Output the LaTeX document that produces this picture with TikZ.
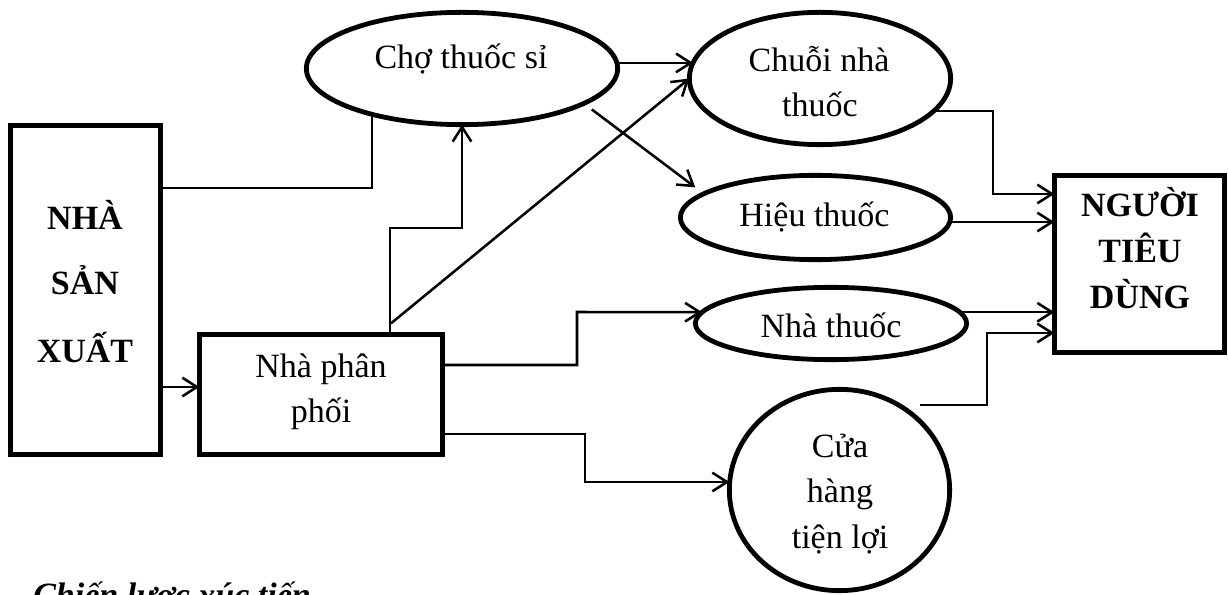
\documentclass[tikz,border=0pt]{standalone}
\usepackage{fontspec}
\setmainfont{Liberation Serif}
\usetikzlibrary{arrows.meta,shapes.geometric,calc}
\begin{document}
\begin{tikzpicture}[x=0.75pt,y=-0.75pt,
  box/.style={draw, line width=3.6pt, rectangle, inner sep=0pt, outer sep=0pt},
  oval/.style={draw, line width=3.6pt, ellipse, inner sep=0pt, outer sep=0pt},
  txt/.style={inner sep=0pt, anchor=base, font=\fontsize{25.5}{30}\selectfont},
  btxt/.style={txt, font=\fontsize{25.5}{30}\selectfont\bfseries},
  link/.style={line width=1.9pt},
  arr/.style={link, -{Straight Barb[length=11pt,width=14pt]}}]

\clip (0,0) rectangle (1228,595);

% boxes
\node[box, minimum width=150.4*0.75pt, minimum height=329.4*0.75pt] (nsx) at (85.5,290) {};
\node[box, minimum width=243.3*0.75pt, minimum height=120.3*0.75pt] (npp) at (321,394.5) {};
\node[box, minimum width=170.3*0.75pt, minimum height=177.3*0.75pt] (nguoi) at (1139.5,264) {};

% ovals
\node[oval, minimum width=311.3*0.75pt, minimum height=112.3*0.75pt] (cho) at (462,68.5) {};
\node[oval, minimum width=261.3*0.75pt, minimum height=132.3*0.75pt] (chuoi) at (820,78.5) {};
\node[oval, minimum width=270.3*0.75pt, minimum height=84.3*0.75pt] (hieu) at (815.5,217.5) {};
\node[oval, minimum width=271.3*0.75pt, minimum height=72.3*0.75pt] (nhathuoc) at (831,323.5) {};
\node[oval, minimum width=220.3*0.75pt, minimum height=201.3*0.75pt] (cuahang) at (839.5,490) {};

% labels
\node[btxt] (nsx1) at (85,230) {NHÀ};
\node[btxt] (nsx2) at (85,295) {SẢN};
\node[btxt] (nsx3) at (85,362) {XUẤT};
\node[txt] (npp1) at (321,377) {Nhà phân};
\node[txt] (npp2) at (321,422) {phối};
\node[btxt] (ng1) at (1140,217) {NGƯỜI};
\node[btxt] (ng2) at (1140,263) {TIÊU};
\node[btxt] (ng3) at (1140,309) {DÙNG};
\node[txt] (cho1) at (461,69) {Chợ thuốc sỉ};
\node[txt] (chuoi1) at (819,72) {Chuỗi nhà};
\node[txt] (chuoi2) at (820,117) {thuốc};
\node[txt] (hieu1) at (814.5,227) {Hiệu thuốc};
\node[txt] (nt1) at (831,337) {Nhà thuốc};
\node[txt] (ch1) at (840,457) {Cửa};
\node[txt] (ch2) at (840,502) {hàng};
\node[txt] (ch3) at (840,548) {tiện lợi};
% section heading running off the lower edge
\node[btxt, font=\fontsize{25.5}{30}\selectfont\bfseries\itshape, anchor=base west] (clxt) at (33,606) {Chiến lược xúc tiến};

% connectors
\draw[arr] (nsx.east |- 0,387) -- (npp.west |- 0,387);
\draw[link] (nsx.east |- 0,188) -| (cho.207);
\draw[arr] (npp.north -| 390,0) -- (390,228) -| (cho.south);
\draw[arr] ($(npp.north -| 391,0)+(0,-11)$) -- (chuoi.west);
\draw[arr] (cho.east |- chuoi.173) -- (chuoi.173);
\draw[arr, shorten <=7.5pt, shorten >=8pt] (cho.-16.5) -- (hieu.168);
\draw[arr] (chuoi.-16) -| (993,194) -- (nguoi.west |- 0,194);
\draw[arr] (hieu.east |- 0,222) -- (nguoi.west |- 0,222);
\draw[arr] (npp.east |- 0,365) -| (577,312) -- (nhathuoc.175);
\draw[arr] (npp.east |- 0,434) -| (585,482) -- (cuahang.west |- 0,482);
\draw[arr] (nhathuoc.5) -- (nguoi.west |- nhathuoc.5);
\draw[arr, shorten <=15.75pt] (cuahang.55) -| (987,333) -- (nguoi.west |- 0,333);
\end{tikzpicture}
\end{document}
